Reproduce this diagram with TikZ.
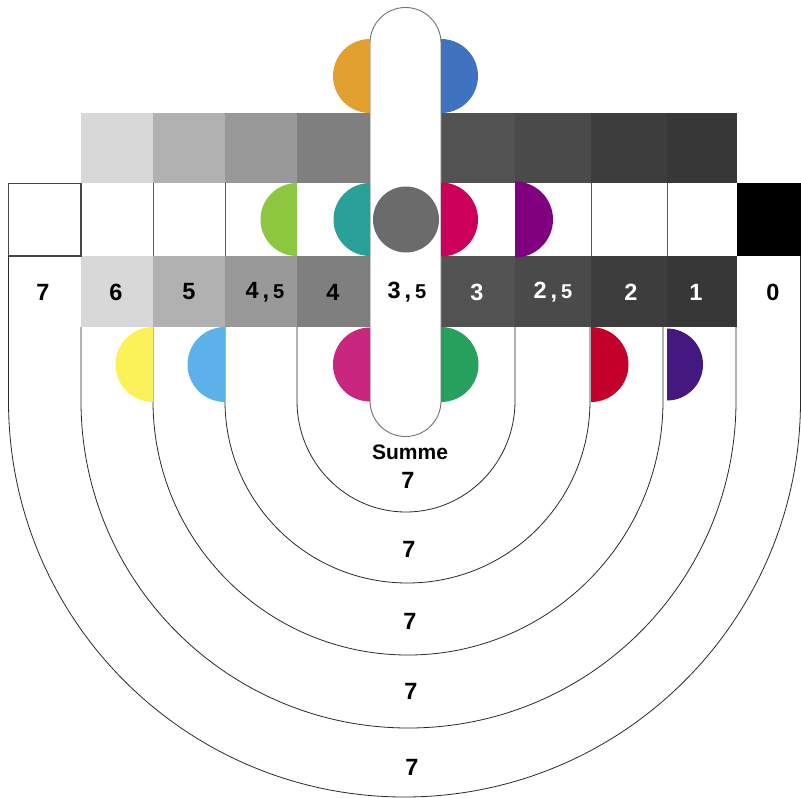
\documentclass[tikz,border=0pt]{standalone}
\usepackage{fontspec}
\setmainfont{Liberation Sans}
\definecolor{gA}{HTML}{D8D8D8}
\definecolor{gB}{HTML}{B1B1B1}
\definecolor{gC}{HTML}{999999}
\definecolor{gD}{HTML}{7F7F7F}
\definecolor{gE}{HTML}{525252}
\definecolor{gF}{HTML}{4A4A4A}
\definecolor{gG}{HTML}{3D3D3D}
\definecolor{gH}{HTML}{373737}
\definecolor{cOrange}{HTML}{E09F2E}
\definecolor{cBlue}{HTML}{3F72BF}
\definecolor{cLime}{HTML}{8DC63F}
\definecolor{cTeal}{HTML}{2AA198}
\definecolor{cGray}{HTML}{6B6B6B}
\definecolor{cCrimson}{HTML}{CC0058}
\definecolor{cPurple}{HTML}{800080}
\definecolor{cYellow}{HTML}{FBF25A}
\definecolor{cSky}{HTML}{5CB1EA}
\definecolor{cMagenta}{HTML}{C8267F}
\definecolor{cGreen}{HTML}{26A05C}
\definecolor{cRed}{HTML}{C4002A}
\definecolor{cIndigo}{HTML}{43197F}
\definecolor{lineC}{HTML}{2A2A2A}
\newcommand\halfleft[4]{\fill[#1] (#2,#3-#4) arc[start angle=90,end angle=270,radius=#4 pt] -- cycle;}
\newcommand\halfright[4]{\fill[#1] (#2,#3-#4) arc[start angle=90,end angle=-90,radius=#4 pt] -- cycle;}
\newcommand\smallfive{{\fontsize{20}{20}\selectfont 5}}
\begin{document}
\begin{tikzpicture}[x=1pt,y=-1pt,
  lbl/.style={font=\fontsize{23.5}{23.5}\selectfont\bfseries, inner sep=0pt, anchor=center},
  wlbl/.style={lbl, text=white},
  uline/.style={draw=lineC, line width=0.8pt},
  cellline/.style={draw=black!65, line width=0.8pt},
  capsule/.style={draw=black!55, line width=0.9pt, fill=white}]
\useasboundingbox (0,0) rectangle (801,798);
\fill[white] (0,0) rectangle (801,798);
% top gray row
\fill[gA] (81,113) rectangle (153,183);
\fill[gB] (153,113) rectangle (225,183);
\fill[gC] (225,113) rectangle (297,183);
\fill[gD] (297,113) rectangle (370,183);
\fill[gE] (441,113) rectangle (515,183);
\fill[gF] (515,113) rectangle (591,183);
\fill[gG] (591,113) rectangle (667,183);
\fill[gH] (667,113) rectangle (737,183);
% bottom gray row
\fill[gA] (81,256) rectangle (153,327);
\fill[gB] (153,256) rectangle (225,327);
\fill[gC] (225,256) rectangle (297,327);
\fill[gD] (297,256) rectangle (370,327);
\fill[gE] (441,256) rectangle (515,327);
\fill[gF] (515,256) rectangle (591,327);
\fill[gG] (591,256) rectangle (667,327);
\fill[gH] (667,256) rectangle (737,327);
% middle row
\draw[draw=black!72, line width=1.3pt] (8.5,183.5) rectangle (81,256);
\fill[black] (737,183) rectangle (801,256);
\draw[cellline] (153,183) -- (153,256);
\draw[cellline] (225,183) -- (225,256);
\draw[cellline] (591,183) -- (591,256);
\draw[cellline] (667,183) -- (667,256);
% U shaped lines
\draw[uline] (297,327) -- (297,401) arc[start angle=180,end angle=360,x radius=109pt,y radius=111pt] -- (515,327);
\draw[uline] (225,327) -- (225,401) arc[start angle=180,end angle=360,x radius=182.5pt,y radius=182pt] -- (590,327);
\draw[uline] (153,327) -- (153,401) arc[start angle=180,end angle=360,x radius=255pt,y radius=254pt] -- (663,327);
\draw[uline] (81,327) -- (81,401) arc[start angle=180,end angle=360,x radius=327.5pt,y radius=327pt] -- (736,327);
\draw[uline] (8.5,256) -- (8.5,401) arc[start angle=180,end angle=360,x radius=396pt,y radius=396pt] -- (800.5,256);
% capsule
\draw[capsule] (370,401) -- (370,43) arc[start angle=180,end angle=0,radius=35.5pt] -- (441,401) arc[start angle=0,end angle=-180,radius=35.5pt] -- cycle;
% half disks, top
\halfleft{cOrange}{370}{76}{37}
\halfright{cBlue}{441}{76}{37}
% half disks, middle
\halfleft{cLime}{297}{219.5}{36.5}
\halfleft{cTeal}{370}{219.5}{36.5}
\fill[cGray] (406,219.5) circle[radius=33pt];
\halfright{cCrimson}{441}{219.5}{37}
\halfright{cPurple}{515}{219.5}{38}
% half disks, lower
\halfleft{cYellow}{153}{364.5}{37.5}
\halfleft{cSky}{225}{364.5}{37.5}
\halfleft{cMagenta}{370}{364.5}{37}
\halfright{cGreen}{441}{364.5}{37.5}
\halfright{cRed}{591}{364.5}{37.5}
\halfright{cIndigo}{667}{364.5}{36}
% labels
\node[lbl] (l7) at (43,292) {7};
\node[lbl] (l6) at (116,292) {6};
\node[lbl] (l5) at (189,292) {5};
\node[lbl] (l45) at (265,292) {4\,,\,\smallfive};
\node[lbl] (l4) at (333,292) {4};
\node[lbl] (l35) at (407,292) {3\,,\,\smallfive};
\node[wlbl] (l3) at (477,292) {3};
\node[wlbl] (l25) at (553,292) {2\,,\,\smallfive};
\node[wlbl] (l2) at (631,292) {2};
\node[wlbl] (l1) at (696,292) {1};
\node[lbl] (l0) at (773,292) {0};
\node[lbl, font=\fontsize{21}{21}\selectfont\bfseries] (summe) at (410,452.5) {Summe};
\node[lbl] (s1) at (408,480) {7};
\node[lbl] (s2) at (409,549) {7};
\node[lbl] (s3) at (410,621) {7};
\node[lbl] (s4) at (411,691) {7};
\node[lbl] (s5) at (412,767) {7};
\end{tikzpicture}
\end{document}
